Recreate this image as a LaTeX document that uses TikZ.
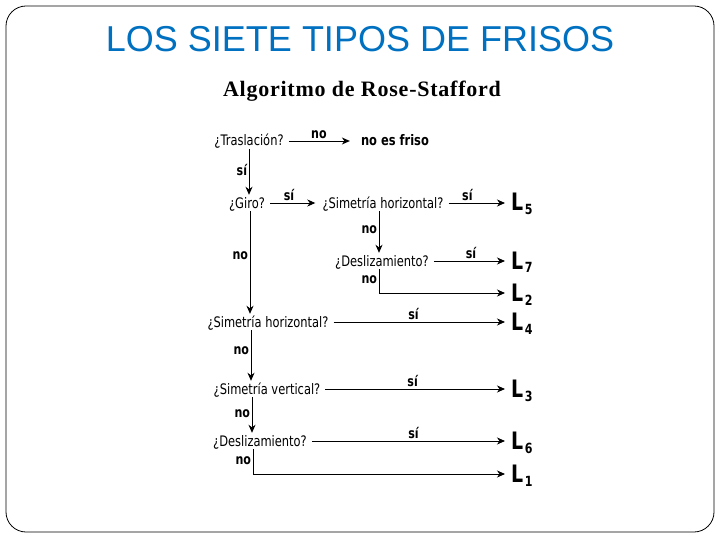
\documentclass[tikz,border=0pt]{standalone}
\usepackage{fontspec}
\setmainfont{Liberation Serif}
\newfontfamily\titlefont{Liberation Sans}
\newfontfamily\subfont[LetterSpace=3.5]{Liberation Serif}
\newfontfamily\dfont[FakeStretch=0.79]{DejaVu Sans}
\usetikzlibrary{arrows.meta}
\definecolor{titleblue}{RGB}{0,112,192}
\newcommand\Lr[1]{L\kern1.5pt\raisebox{-4pt}{\fontsize{14}{14}\selectfont #1}}
\begin{document}
\begin{tikzpicture}[x=1pt,y=-1pt,
 q/.style={font=\dfont\fontsize{14.5}{16}\selectfont, inner xsep=5pt, inner ysep=3pt, text height=10pt, text depth=0pt},
 qb/.style={q, font=\dfont\bfseries\fontsize{14.5}{16}\selectfont},
 lb/.style={font=\dfont\bfseries\fontsize{14}{15}\selectfont, inner sep=1.5pt},
 res/.style={anchor=west, inner sep=0pt, text height=16pt, text depth=0pt, font=\dfont\bfseries\fontsize{24}{24}\selectfont},
 arr/.style={line width=0.9pt, -{Stealth[length=8pt,width=7pt,inset=2.5pt]}},
]
\useasboundingbox (0,0) rectangle (720,540);
\draw[line width=0.8pt, rounded corners=20pt] (6,6) rectangle (714,532);
\node[font=\titlefont\fontsize{36}{40}\selectfont, text=titleblue, anchor=base, inner sep=0pt] (title) at (360,52) {LOS SIETE TIPOS DE FRISOS};
\node[font=\subfont\bfseries\fontsize{22}{26}\selectfont, anchor=base, inner sep=0pt] (sub) at (362,97) {Algoritmo de Rose-Stafford};

% questions
\node[q] (tras) at (249,141) {¿Traslación?};
\node[qb] (nof) at (395,141) {no es friso};
\node[q] (giro) at (247,203) {¿Giro?};
\node[q] (sh1) at (383,203) {¿Simetría horizontal?};
\node[q] (d1) at (382,261) {¿Deslizamiento?};
\node[q] (sh2) at (268,322) {¿Simetría horizontal?};
\node[q] (sv) at (267,389) {¿Simetría vertical?};
\node[q] (d2) at (260,441) {¿Deslizamiento?};

% results
\node[res] (L5) at (511,203) {\Lr{5}};
\node[res] (L7) at (511,261) {\Lr{7}};
\node[res] (L2) at (511,293) {\Lr{2}};
\node[res] (L4) at (511,322) {\Lr{4}};
\node[res] (L3) at (511,389) {\Lr{3}};
\node[res] (L6) at (511,441) {\Lr{6}};
\node[res] (L1) at (511,474) {\Lr{1}};

% connectors
\draw[arr, shorten >=6pt] (tras.east) -- node[lb, above, pos=0.45] {no} (nof.west);
\draw[arr] (tras.south) -- node[lb, left, pos=0.45] {sí} (tras.south |- giro.north);
\draw[arr, shorten >=2pt] (giro.east) -- node[lb, above, pos=0.4] {sí} (sh1.west);
\draw[arr, shorten >=6pt] (sh1.east) -- node[lb, above, pos=0.3] {sí} (L5.west);
\draw[arr] ([xshift=-4pt]sh1.south) -- node[lb, left, pos=0.45] {no} ([xshift=-4pt]sh1.south |- d1.north);
\draw[arr, shorten >=6pt] (d1.east) -- node[lb, above, pos=0.48] {sí} (L7.west);
\draw[arr, shorten >=6pt] ([xshift=-3pt]d1.south) -- node[lb, left, pos=0.45] {no} ([xshift=-3pt]d1.south |- L2.west) -- (L2.west);
\draw[arr] ([xshift=3pt]giro.south) -- node[lb, left, pos=0.43] {no} ([xshift=3pt]giro.south |- sh2.north);
\draw[arr, shorten >=6pt] (sh2.east) -- node[lb, above, pos=0.45] {sí} (L4.west);
\draw[arr] ([xshift=-17pt]sh2.south) -- node[lb, left, pos=0.4] {no} ([xshift=-17pt]sh2.south |- sv.north);
\draw[arr, shorten >=6pt] (sv.east) -- node[lb, above, pos=0.47] {sí} (L3.west);
\draw[arr] ([xshift=-15pt]sv.south) -- node[lb, left, pos=0.45] {no} ([xshift=-15pt]sv.south |- d2.north);
\draw[arr, shorten >=6pt] (d2.east) -- node[lb, above, pos=0.51] {sí} (L6.west);
\draw[arr, shorten >=6pt] ([xshift=-7pt]d2.south) -- node[lb, left, pos=0.45] {no} ([xshift=-7pt]d2.south |- L1.west) -- (L1.west);
\end{tikzpicture}
\end{document}
